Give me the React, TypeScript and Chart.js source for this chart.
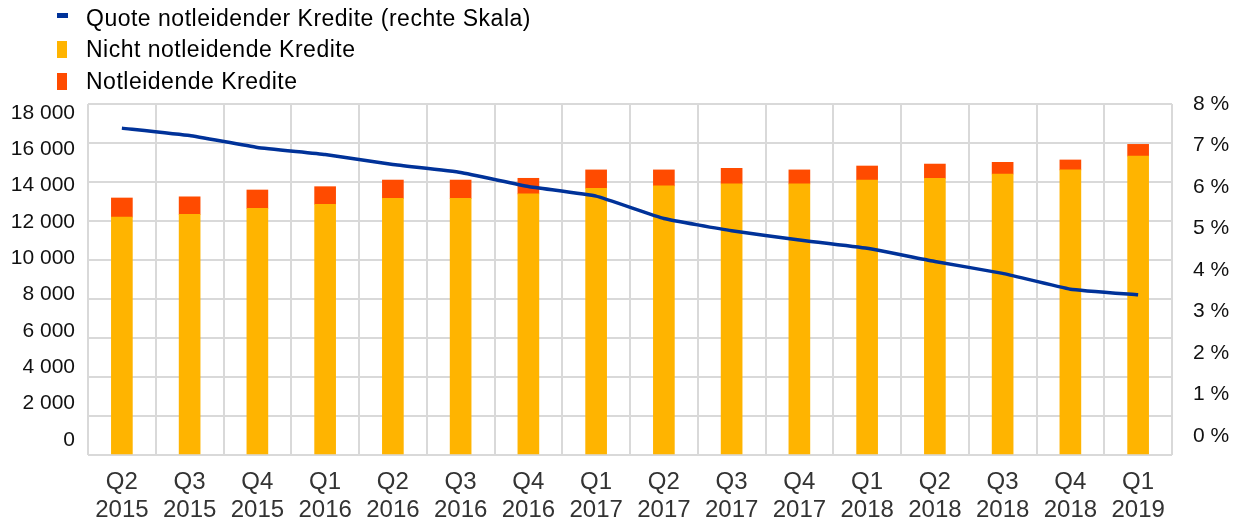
import React, { useEffect, useRef } from "react";
import { Chart, registerables } from "chart.js";

Chart.register(...registerables);

const quarters = ["Q2", "Q3", "Q4", "Q1", "Q2", "Q3", "Q4", "Q1", "Q2", "Q3", "Q4", "Q1", "Q2", "Q3", "Q4", "Q1"];
const years = ["2015", "2015", "2015", "2016", "2016", "2016", "2016", "2017", "2017", "2017", "2017", "2018", "2018", "2018", "2018", "2019"];

// Nicht notleidende Kredite (linke Skala)
const performingLoans = [12200, 12340, 12650, 12860, 13160, 13160, 13390, 13680, 13800, 13900, 13900, 14100, 14190, 14410, 14620, 15330];
// Notleidende Kredite (linke Skala)
const nonPerformingLoans = [980, 900, 940, 900, 940, 940, 800, 940, 820, 800, 720, 720, 730, 600, 510, 600];
// Quote notleidender Kredite in % (rechte Skala)
const nplRatio = [7.45, 7.28, 7.01, 6.85, 6.62, 6.44, 6.12, 5.9, 5.39, 5.11, 4.9, 4.71, 4.41, 4.14, 3.78, 3.65];

const leftTicks = [0, 2000, 4000, 6000, 8000, 10000, 12000, 14000, 16000, 18000];
const rightTicks = [0, 1, 2, 3, 4, 5, 6, 7, 8];

const legendItems = [
  { label: "Quote notleidender Kredite (rechte Skala)", color: "#003299", kind: "line" },
  { label: "Nicht notleidende Kredite", color: "#FFB400", kind: "box" },
  { label: "Notleidende Kredite", color: "#FF4B00", kind: "box" },
];

const fmtThousands = (v: number) => String(v).replace(/\B(?=(\d{3})+(?!\d))/g, " ");

export default function App() {
  const canvasRef = useRef<HTMLCanvasElement | null>(null);

  useEffect(() => {
    if (!canvasRef.current) return;
    const labels = quarters.map((q, i) => [q, years[i]]);
    const chart = new Chart(canvasRef.current, {
      type: "bar",
      data: {
        labels,
        datasets: [
          {
            type: "line",
            label: legendItems[0].label,
            data: nplRatio,
            yAxisID: "yLine",
            borderColor: "#003299",
            backgroundColor: "#003299",
            borderWidth: 3.5,
            pointRadius: 0,
            tension: 0.1,
            order: 0,
          } as any,
          {
            type: "bar",
            label: legendItems[1].label,
            data: performingLoans,
            yAxisID: "y",
            backgroundColor: "#FFB400",
            barThickness: 21,
            order: 1,
          },
          {
            type: "bar",
            label: legendItems[2].label,
            data: nonPerformingLoans,
            yAxisID: "y",
            backgroundColor: "#FF4B00",
            barThickness: 21,
            order: 1,
          },
        ],
      },
      options: {
        animation: false,
        responsive: false,
        layout: { padding: { top: 104, left: 0, right: 0, bottom: 0 } },
        plugins: { legend: { display: false }, tooltip: { enabled: false } },
        scales: {
          x: {
            stacked: true,
            offset: true,
            grid: { display: true, offset: true, color: "#d9d9d9", lineWidth: 2, drawTicks: false },
            border: { display: false },
            ticks: {
              autoSkip: false,
              maxRotation: 0,
              minRotation: 0,
              padding: 14,
              color: "#333333",
              font: { family: "'Liberation Sans', Arial, sans-serif", size: 24, lineHeight: 1.15 },
            },
            afterFit: (axis: any) => {
              axis.height = 67;
            },
          },
          y: {
            stacked: true,
            position: "left",
            min: 0,
            max: 18000,
            grid: { color: "#d9d9d9", lineWidth: 2, drawTicks: false },
            border: { display: false },
            ticks: { display: false, stepSize: 2000 },
            afterFit: (axis: any) => {
              axis.width = 0;
            },
          },
          yL: {
            type: "linear",
            position: "left",
            min: -825.7,
            max: 18495.4,
            grid: { display: false, drawTicks: false },
            border: { display: false },
            ticks: {
              autoSkip: false,
              padding: 13,
              color: "#111111",
              font: { family: "'Liberation Sans', Arial, sans-serif", size: 21 },
              callback: (v: any) => fmtThousands(Number(v)),
            },
            afterBuildTicks: (axis: any) => {
              axis.ticks = leftTicks.map((v) => ({ value: v }));
            },
            afterFit: (axis: any) => {
              axis.width = 88;
            },
          },
          yLine: {
            type: "linear",
            display: false,
            position: "right",
            min: 0,
            max: 8,
          },
          yR: {
            type: "linear",
            position: "right",
            min: -0.458,
            max: 8,
            grid: { display: false, drawTicks: false },
            border: { display: false },
            ticks: {
              autoSkip: false,
              padding: 21,
              color: "#111111",
              font: { family: "'Liberation Sans', Arial, sans-serif", size: 21 },
              callback: (v: any) => `${v} %`,
            },
            afterBuildTicks: (axis: any) => {
              axis.ticks = rightTicks.map((v) => ({ value: v }));
            },
            afterFit: (axis: any) => {
              axis.width = 70;
            },
          },
        },
      } as any,
    });
    return () => chart.destroy();
  }, []);

  const legendTops = [18, 49, 81];

  return (
    <div style={{ position: "absolute", left: 0, top: 0, width: 1242, height: 522, background: "#ffffff" }}>
      <canvas ref={canvasRef} width={1242} height={522} style={{ position: "absolute", left: 0, top: 0 }} />
      {legendItems.map((item, i) => (
        <div key={item.label}>
          <div
            style={{
              position: "absolute",
              left: 57,
              top: item.kind === "line" ? legendTops[i] - 5 : legendTops[i] - 8,
              width: item.kind === "line" ? 11 : 10,
              height: item.kind === "line" ? 5 : 17,
              background: item.color,
            }}
          />
          <div
            style={{
              position: "absolute",
              left: 86,
              top: legendTops[i] - 13,
              height: 26,
              lineHeight: "26px",
              fontSize: 23,
              letterSpacing: "0.5px",
              fontFamily: "'Liberation Sans', Arial, sans-serif",
              color: "#000000",
              whiteSpace: "nowrap",
            }}
          >
            {item.label}
          </div>
        </div>
      ))}
    </div>
  );
}
